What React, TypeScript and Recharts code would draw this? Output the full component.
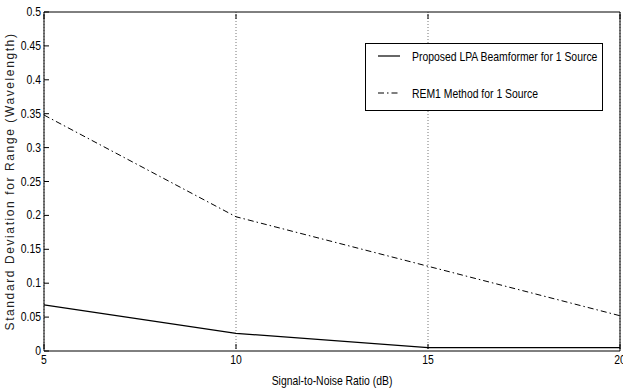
import { CartesianGrid, Line, LineChart, XAxis, YAxis } from "recharts";

const snr = [5, 10, 15, 20];
const proposedLpa = [0.068, 0.026, 0.005, 0.005];
const rem1 = [0.348, 0.198, 0.125, 0.052];
const xTicks = [5, 10, 15, 20];
const yTicks = [0, 0.05, 0.1, 0.15, 0.2, 0.25, 0.3, 0.35, 0.4, 0.45, 0.5];

const seriesNames = ["Proposed LPA Beamformer for 1 Source", "REM1 Method for 1 Source"];

const data = snr.map((s, i) => ({ snr: s, lpa: proposedLpa[i], rem1: rem1[i] }));

const font = "'Liberation Sans', Arial, sans-serif";
const DASHDOT = "6 3 1.5 3";
const SQUEEZE = 0.8; // no narrow face installed, so squeeze horizontally

const NarrowText = ({ x, y, anchor, size, children }: any) => (
  <text
    transform={`translate(${x},${y}) scale(${SQUEEZE},1)`}
    textAnchor={anchor}
    fontSize={size}
    fontFamily={font}
    fill="#000"
  >
    {children}
  </text>
);

// MATLAB style: ticks point into the plot box
const LeftTick = (p: any) => (
  <g>
    <line x1={p.x + 2} x2={p.x + 7} y1={p.y} y2={p.y} stroke="#000" />
    <NarrowText x={p.x - 1} y={p.y + 4} anchor="end" size={13}>
      {String(p.payload.value)}
    </NarrowText>
  </g>
);
const RightTick = (p: any) => (
  <line x1={p.x - 2} x2={p.x - 7} y1={p.y} y2={p.y} stroke="#000" />
);
const BottomTick = (p: any) => (
  <g>
    <line x1={p.x} x2={p.x} y1={p.y - 2} y2={p.y - 7} stroke="#000" />
    <NarrowText x={p.x} y={p.y + 13} anchor="middle" size={13}>
      {String(p.payload.value)}
    </NarrowText>
  </g>
);
const TopTick = (p: any) => (
  <line x1={p.x} x2={p.x} y1={p.y + 2} y2={p.y + 7} stroke="#000" />
);

const XLabel = (p: any) => {
  const vb = p.viewBox;
  return (
    <NarrowText x={vb.x + vb.width / 2} y={vb.y + 34} anchor="middle" size={13}>
      Signal-to-Noise Ratio (dB)
    </NarrowText>
  );
};

const LegendBox = () => (
  <div
    style={{
      position: "absolute",
      left: 365,
      top: 43,
      width: 236,
      height: 66,
      border: "1px solid #000",
      background: "#fff",
      fontFamily: font,
      fontSize: 13,
      color: "#000",
    }}
  >
    {seriesNames.map((n, i) => (
      <div key={n} style={{ display: "flex", alignItems: "center", height: 18, marginTop: i === 0 ? 3 : 19 }}>
        <svg width={46} height={18} style={{ flex: "none" }}>
          <line x1={12} x2={34} y1={9} y2={9} stroke="#000" strokeWidth={1.2} strokeDasharray={i === 1 ? DASHDOT : undefined} />
        </svg>
        <span style={{ whiteSpace: "nowrap", display: "inline-block", transform: `scaleX(${SQUEEZE})`, transformOrigin: "left center" }}>
          {n}
        </span>
      </div>
    ))}
  </div>
);

export default function App() {
  return (
    <div style={{ position: "fixed", left: 0, top: 0, width: 623, height: 392, background: "#fff" }}>
      <LineChart width={623} height={392} data={data} margin={{ top: 0, right: 0, bottom: 0, left: 0 }}>
        <CartesianGrid horizontal={false} stroke="#777" strokeDasharray="1 2" xAxisId="b" yAxisId="l" />
        <XAxis
          xAxisId="b"
          dataKey="snr"
          type="number"
          domain={[5, 20]}
          ticks={xTicks}
          height={41}
          tickSize={0}
          tickMargin={0}
          tickLine={false}
          axisLine={{ stroke: "#000" }}
          tick={BottomTick}
          interval={0}
          label={<XLabel />}
        />
        <XAxis
          xAxisId="t"
          orientation="top"
          dataKey="snr"
          type="number"
          domain={[5, 20]}
          ticks={xTicks}
          height={12}
          tickSize={0}
          tickMargin={0}
          tickLine={false}
          axisLine={{ stroke: "#000" }}
          tick={TopTick}
          interval={0}
        />
        <YAxis
          yAxisId="l"
          type="number"
          domain={[0, 0.5]}
          ticks={yTicks}
          width={44}
          tickSize={0}
          tickMargin={2}
          tickLine={false}
          axisLine={{ stroke: "#000" }}
          tick={LeftTick}
          interval={0}
          label={{
            value: "Standard Deviation for Range (Wavelength)",
            angle: -90,
            position: "insideLeft",
            offset: 0,
            dx: 10,
            fontSize: 12,
            letterSpacing: 1.6,
            fontFamily: font,
            fill: "#222",
            style: { textAnchor: "middle" },
          }}
        />
        <YAxis
          yAxisId="r"
          orientation="right"
          type="number"
          domain={[0, 0.5]}
          ticks={yTicks}
          width={3}
          tickSize={0}
          tickMargin={0}
          tickLine={false}
          axisLine={{ stroke: "#000" }}
          tick={RightTick}
          interval={0}
        />
        <Line
          xAxisId="b"
          yAxisId="l"
          dataKey="lpa"
          name={seriesNames[0]}
          stroke="#000"
          strokeWidth={1.2}
          dot={false}
          type="linear"
          isAnimationActive={false}
        />
        <Line
          xAxisId="b"
          yAxisId="l"
          dataKey="rem1"
          name={seriesNames[1]}
          stroke="#000"
          strokeWidth={1}
          strokeDasharray={DASHDOT}
          dot={false}
          type="linear"
          isAnimationActive={false}
        />
      </LineChart>
      <LegendBox />
    </div>
  );
}
